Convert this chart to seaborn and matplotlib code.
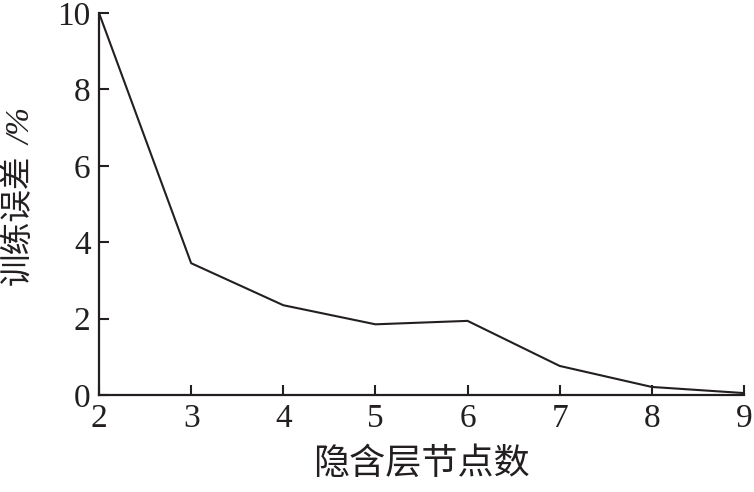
import matplotlib
matplotlib.use("Agg")
import matplotlib.pyplot as plt
import seaborn as sns
import pandas as pd

nodes = [2, 3, 4, 5, 6, 7, 8, 9]
train_error = [10.0, 3.45, 2.35, 1.85, 1.94, 0.76, 0.21, 0.05]
x_ticks = [2, 3, 4, 5, 6, 7, 8, 9]
y_ticks = [0, 2, 4, 6, 8, 10]
y_label_main = "训练误差"
y_label_unit = "/%"

sns.set_style("ticks")
plt.rcParams['font.family'] = ['Liberation Serif', 'Noto Sans CJK SC']

df = pd.DataFrame({"nodes": nodes, "err": train_error})

W, H = 754, 492
fig = plt.figure(figsize=(W / 100, H / 100), dpi=100)
ax = fig.add_axes([0.1313, 0.1972, 0.8554, 0.7764])
sns.lineplot(data=df, x="nodes", y="err", color="#231f20", linewidth=1.5, ax=ax)

ax.set_xlim(2, 9)
ax.set_ylim(0, 10)
ax.set_xticks(x_ticks)
ax.set_yticks(y_ticks)
ax.tick_params(direction="in", length=7, width=1.5, labelsize=24, colors="#231f20", pad=6)
for s in ["top", "right"]:
    ax.spines[s].set_visible(False)
for s in ["left", "bottom"]:
    ax.spines[s].set_linewidth(1.6)
    ax.spines[s].set_color("#231f20")

ax.set_xlabel("隐含层节点数", fontsize=26, family=['Noto Sans CJK SC'], color="#231f20", labelpad=9)
ax.set_ylabel("")
fig.text(18 / W, 1 - 220 / H, y_label_main, rotation=90, ha='center', va='center',
         fontsize=23.5, family=['Noto Sans CJK SC'], color="#231f20")
fig.text(22 / W, 1 - 127 / H, y_label_unit, rotation=90, ha='center', va='center',
         fontsize=24, family=['Liberation Serif'], style='italic', color="#231f20")

fig.savefig("out.png", dpi=100)
